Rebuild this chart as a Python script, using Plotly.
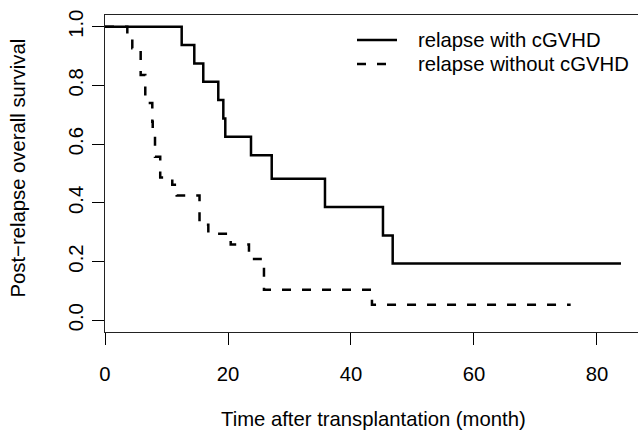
import plotly.graph_objects as go

# ---- data ----
series_names = ["relapse with cGVHD", "relapse without cGVHD"]

with_time = [0, 12.47, 14.52, 15.98, 18.42, 19.24, 19.56, 23.74, 27.11, 35.77, 45.20, 46.78, 83.9]
with_surv = [1.0, 0.9375, 0.875, 0.8125, 0.75, 0.6875, 0.625, 0.5625, 0.482, 0.386, 0.289, 0.193, 0.193]

without_time = [0, 3.63, 4.44, 5.80, 6.55, 7.69, 7.76, 8.13, 8.98, 10.94, 11.66, 15.37, 16.80,
                20.44, 23.41, 25.85, 43.41, 75.72]
without_surv = [1.0, 0.963, 0.927, 0.836, 0.740, 0.676, 0.621, 0.557, 0.486, 0.462, 0.425, 0.325,
                0.295, 0.258, 0.209, 0.104, 0.053, 0.053]

x_ticks = [0, 20, 40, 60, 80]
y_ticks = [0.0, 0.2, 0.4, 0.6, 0.8, 1.0]
y_tick_text = ["0.0", "0.2", "0.4", "0.6", "0.8", "1.0"]

FONT = "Liberation Sans, Arial, Helvetica, sans-serif"
FS = 20.3
W, H = 638, 431
ML, MR, MT, MB = 105, 0, 15, 99
PW, PH = W - ML - MR, H - MT - MB


def px(xp):
    return (xp - ML) / PW


def py(yp):
    return (H - MB - yp) / PH


DASH = "9px,11px"

fig = go.Figure()
fig.add_trace(go.Scatter(
    x=with_time, y=with_surv, mode="lines", line_shape="hv",
    name=series_names[0], line=dict(color="black", width=2.5)))
fig.add_trace(go.Scatter(
    x=without_time, y=without_surv, mode="lines", line_shape="hv",
    name=series_names[1], line=dict(color="black", width=2.5, dash=DASH)))

# legend keys (drawn by hand to match the R-style spacing)
legend_rows = [(40, None), (64, DASH)]
shapes = []
annotations = []
for (row_y, dash), name in zip(legend_rows, series_names):
    ln = dict(color="black", width=2.5)
    if dash:
        ln["dash"] = dash
    shapes.append(dict(type="line", xref="paper", yref="paper",
                       x0=px(357), x1=px(397), y0=py(row_y), y1=py(row_y), line=ln))
    annotations.append(dict(text=name, xref="paper", yref="paper", x=px(416), y=py(row_y),
                            xanchor="left", yanchor="middle", showarrow=False,
                            font=dict(size=FS)))

annotations += [
    dict(text="Time after transplantation (month)", xref="paper", yref="paper",
         x=px(373.4), y=py(419), xanchor="center", yanchor="middle", showarrow=False,
         font=dict(size=FS)),
    dict(text="Post\u2212relapse overall survival", xref="paper", yref="paper",
         x=px(17.5), y=py(168), xanchor="center", yanchor="middle", showarrow=False,
         textangle=-90, font=dict(size=FS)),
]

fig.update_layout(
    width=W, height=H,
    margin=dict(l=ML, r=MR, t=MT, b=MB),
    paper_bgcolor="white", plot_bgcolor="white",
    font=dict(family=FONT, size=FS, color="black"),
    showlegend=False,
    shapes=shapes,
    annotations=annotations,
    xaxis=dict(range=[0, 86.67], tickvals=x_ticks, ticks="outside", ticklen=12,
               tickwidth=1, tickcolor="black", showline=True, linecolor="#222",
               linewidth=1.3, mirror=True, showgrid=False, zeroline=False,
               ticklabelstandoff=11, tickfont=dict(size=FS), automargin=False),
    yaxis=dict(range=[-0.04, 1.04], tickvals=y_ticks, ticktext=y_tick_text,
               ticks="outside", ticklen=12, tickwidth=1, tickcolor="black",
               showline=True, linecolor="#222", linewidth=1.3, mirror=False,
               showgrid=False, zeroline=False, tickangle=-90,
               ticklabelstandoff=1, tickfont=dict(size=FS), automargin=False),
)

fig.write_html("out.html", post_script="document.body.style.margin='0';",
               config={"displayModeBar": False})
